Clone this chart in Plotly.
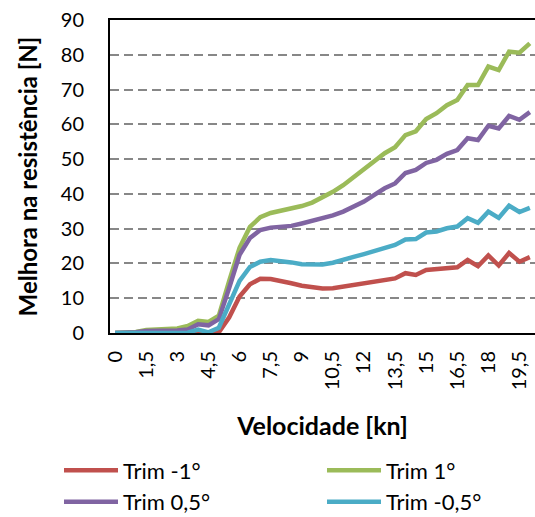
import plotly.graph_objects as go

# Speed categories [kn]
velocidade = [0, 0.5, 1, 1.5, 2, 2.5, 3, 3.5, 4, 4.5, 5, 5.5, 6, 6.5, 7, 7.5, 8, 8.5, 9, 9.5,
              10, 10.5, 11, 11.5, 12, 12.5, 13, 13.5, 14, 14.5, 15, 15.5, 16, 16.5, 17, 17.5,
              18, 18.5, 19, 19.5, 20]

# Resistance improvement [N] per trim angle
trim_m1 = [0, 0, 0, 0, 0, 0, 0, 0, -0.2, -0.4, 0.2,
           4.5, 10.5, 14.0, 15.6, 15.5, 15.0, 14.3, 13.6, 13.2, 12.8,
           12.9, 13.4, 14.0, 14.5, 15.0, 15.4, 15.7, 17.2, 16.7, 18.1,
           18.4, 18.6, 18.9, 21.0, 19.2, 22.3, 19.4, 23.0, 20.5, 21.8]
trim_p1 = [0, 0.1, 0.3, 0.9, 1.0, 1.1, 1.3, 2.0, 3.5, 3.2, 5.0,
           15.0, 24.5, 30.5, 33.3, 34.5, 35.1, 35.6, 36.5, 37.5, 39.0,
           40.6, 42.5, 44.9, 46.9, 49.7, 51.7, 53.4, 56.9, 58.0, 61.5,
           63.2, 65.5, 67.0, 71.3, 71.3, 76.6, 75.6, 80.9, 80.6, 83.3]
trim_p05 = [0, 0, 0.2, 0.6, 0.6, 0.6, 0.7, 1.0, 2.5, 2.2, 4.0,
            13.0, 22.5, 27.3, 29.6, 30.3, 30.6, 30.8, 31.5, 32.2, 33.1,
            33.8, 34.9, 36.3, 37.8, 39.7, 41.6, 43.0, 46.0, 46.9, 48.9,
            49.8, 51.5, 52.6, 56.0, 55.5, 59.6, 58.8, 62.4, 61.3, 63.5]
trim_m05 = [0, 0, 0, 0, 0, 0, 0, 0.1, 1.0, 0.2, 1.5,
            8.0, 15.0, 19.0, 20.5, 21.0, 20.8, 20.3, 19.8, 19.6, 19.7,
            20.2, 21.2, 21.9, 22.7, 23.6, 24.6, 25.3, 26.9, 27.0, 28.9,
            29.2, 30.1, 30.6, 33.0, 31.7, 34.9, 33.1, 36.6, 34.8, 36.0]

# Axis tick labels
x_ticks = [0, 1.5, 3, 4.5, 6, 7.5, 9, 10.5, 12, 13.5, 15, 16.5, 18, 19.5]
x_tick_labels = ["0", "1,5", "3", "4,5", "6", "7,5", "9", "10,5", "12", "13,5", "15", "16,5", "18", "19,5"]
y_ticks = [0, 10, 20, 30, 40, 50, 60, 70, 80, 90]

series = [
    ("Trim -1°", trim_m1, "#C0504D"),
    ("Trim 1°", trim_p1, "#9BBB59"),
    ("Trim 0,5°", trim_p05, "#8064A2"),
    ("Trim -0,5°", trim_m05, "#4BACC6"),
]

FONT = "Lato"

fig = go.Figure()
for name, values, color in series:
    fig.add_trace(go.Scatter(
        x=velocidade, y=values, name=name, mode="lines",
        line=dict(color=color, width=4.5),
    ))

fig.update_layout(
    width=535, height=517,
    margin=dict(l=110, r=0, t=20, b=184, autoexpand=False),
    paper_bgcolor="white", plot_bgcolor="white",
    font=dict(family=FONT, color="black", size=20),
    showlegend=True,
    legend=dict(
        orientation="h", x=-0.12, y=-0.372, xanchor="left", yanchor="top",
        entrywidth=194, entrywidthmode="pixels", itemwidth=54,
        font=dict(family=FONT, size=22, color="black"),
        tracegroupgap=0, traceorder="normal",
    ),
    xaxis=dict(
        range=[-0.25, 20.25], tickmode="array", tickvals=x_ticks, ticktext=x_tick_labels,
        tickangle=-90, showgrid=False, zeroline=False, automargin=False,
        showline=True, linecolor="black", linewidth=2, mirror=True,
        ticks="", ticklabelstandoff=8,
        tickfont=dict(family=FONT, size=20, color="black"),
        title=dict(text="Velocidade [kn]", standoff=28,
                   font=dict(family=FONT, size=25, color="black", weight="bold")),
    ),
    yaxis=dict(
        range=[0, 90], tickmode="array", tickvals=y_ticks, automargin=False,
        showgrid=True, gridcolor="#878787", gridwidth=2, griddash="9px,5px",
        zeroline=False, showline=True, linecolor="black", linewidth=2,
        ticks="", ticklabelstandoff=20,
        tickfont=dict(family=FONT, size=20, color="black"),
        title=dict(text="Melhora na resistência [N]", standoff=16,
                   font=dict(family=FONT, size=24, color="black", weight="bold")),
    ),
)

fig.write_html("out.html")
